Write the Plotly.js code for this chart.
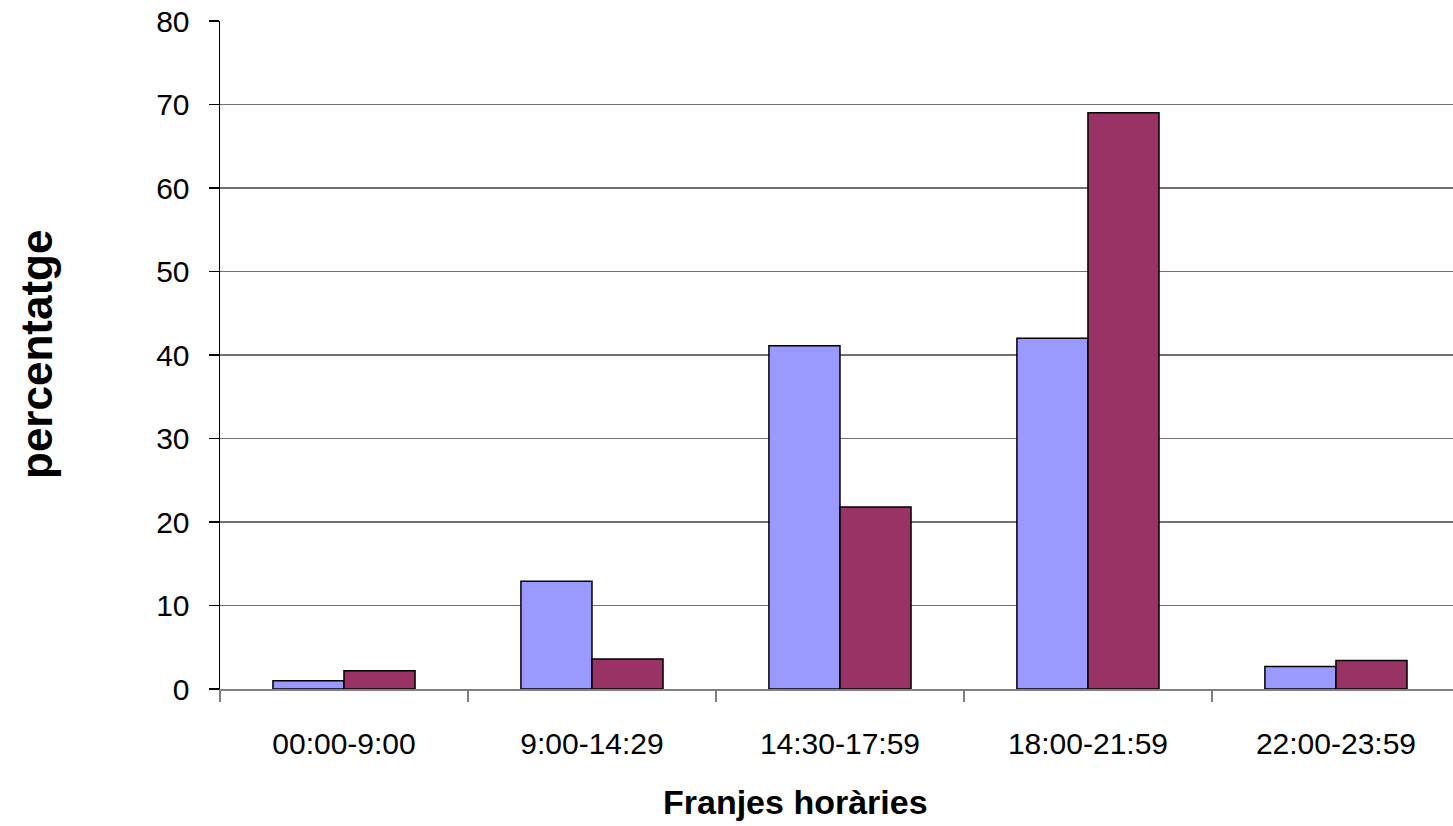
<!DOCTYPE html>
<html>
<head>
<meta charset="utf-8">
<script src="https://cdn.plot.ly/plotly-3.0.1.min.js"></script>
<style>html,body{margin:0;padding:0;background:#fff;}#chart{width:1453px;height:826px;}</style>
</head>
<body>
<div id="chart"></div>
<script>
const categories = ["00:00-9:00", "9:00-14:29", "14:30-17:59", "18:00-21:59", "22:00-23:59"];
const seriesA = [1.0, 12.9, 41.1, 42.0, 2.7];
const seriesB = [2.2, 3.6, 21.8, 69.0, 3.4];
const yTicks = [0, 10, 20, 30, 40, 50, 60, 70, 80];
const xTitle = "Franjes horàries";
const yTitle = "percentatge";

const FONT = "Liberation Sans, Arial, sans-serif";

const traces = [
  {type: "bar", x: categories, y: seriesA, name: "A",
   marker: {color: "#9999FF", line: {color: "#000000", width: 1.5}}, hoverinfo: "none"},
  {type: "bar", x: categories, y: seriesB, name: "B",
   marker: {color: "#993366", line: {color: "#000000", width: 1.5}}, hoverinfo: "none"}
];

const layout = {
  width: 1453, height: 826,
  margin: {l: 220, r: 0, t: 21, b: 137, pad: 0},
  paper_bgcolor: "#ffffff", plot_bgcolor: "#ffffff",
  showlegend: false,
  barmode: "group", bargap: 0.427, bargroupgap: 0,
  font: {family: FONT, color: "#000000"},
  xaxis: {
    type: "category",
    range: [-0.5, 4.472],
    tickson: "boundaries",
    ticks: "outside", ticklen: 11, tickcolor: "#808080", tickwidth: 1.5,
    ticklabelstandoff: 27,
    tickfont: {size: 30, family: FONT, color: "#000"},
    showline: true, linecolor: "#808080", linewidth: 2,
    showgrid: false, zeroline: false, fixedrange: true
  },
  yaxis: {
    range: [0, 80],
    tickvals: yTicks, ticktext: yTicks.map(String),
    ticks: "outside", ticklen: 10, tickcolor: "#000", tickwidth: 1.2,
    ticklabelstandoff: 13,
    tickfont: {size: 30, family: FONT, color: "#000"},
    showline: true, linecolor: "#000", linewidth: 1.5,
    showgrid: true, gridcolor: "#707070", gridwidth: 1.4,
    zeroline: false, fixedrange: true
  },
  annotations: [
    {text: "<b>" + xTitle + "</b>", xref: "paper", yref: "paper", x: 0, y: 0,
     xshift: 575, yshift: -113, xanchor: "center", yanchor: "middle", showarrow: false,
     font: {size: 34, family: FONT, color: "#000"}},
    {text: "<b>" + yTitle + "</b>", xref: "paper", yref: "paper", x: 0, y: 0.5,
     xshift: -184, xanchor: "center", yanchor: "middle", textangle: -90, showarrow: false,
     font: {size: 44, family: FONT, color: "#000"}}
  ]
};

Plotly.newPlot("chart", traces, layout, {displayModeBar: false, staticPlot: true});
</script>
</body>
</html>
